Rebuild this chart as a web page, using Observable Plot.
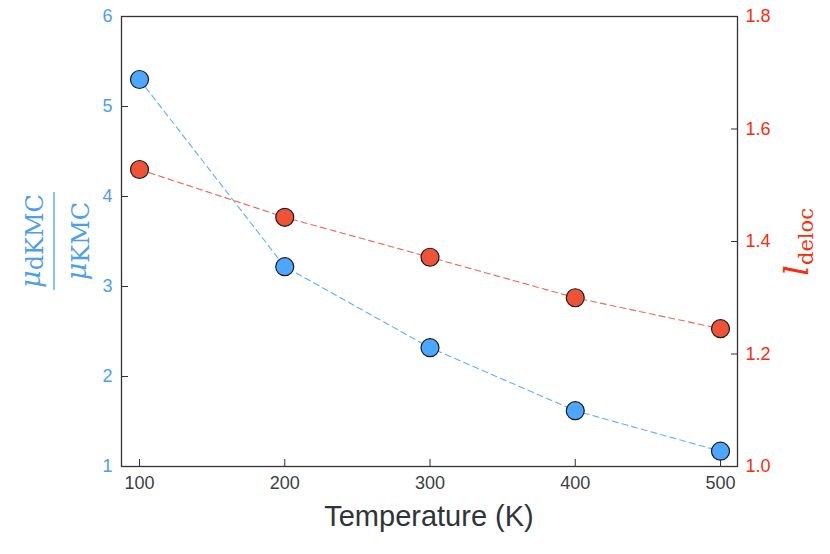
<!DOCTYPE html>
<html>
<head>
<meta charset="utf-8">
<script src="https://cdn.jsdelivr.net/npm/d3@7"></script>
<script src="https://cdn.jsdelivr.net/npm/@observablehq/plot@0.6"></script>
<style>
  html, body { margin: 0; padding: 0; background: #fff; }
  #chart { width: 830px; height: 554px; }
</style>
</head>
<body>
<div id="chart"></div>
<script>
// Data
const temperatures = [100, 200, 300, 400, 500];
const mobilityRatio = [5.30, 3.22, 2.32, 1.62, 1.17];    // μ_dKMC / μ_KMC (left axis)
const delocLength = [1.528, 1.443, 1.372, 1.300, 1.245]; // l_deloc (right axis)
const xTicks = [100, 200, 300, 400, 500];
const leftTicks = [1, 2, 3, 4, 5, 6];
const rightTicks = [1.0, 1.2, 1.4, 1.6, 1.8];

// Map right-axis values onto the left scale: [1.0,1.8] -> [1,6]
const rightToLeft = r => 1 + (r - 1.0) * (5 / 0.8);
const leftToRight = l => 1.0 + (l - 1) * (0.8 / 5);

const blueData = temperatures.map((t, i) => ({t, v: mobilityRatio[i]}));
const redData = temperatures.map((t, i) => ({t, v: rightToLeft(delocLength[i])}));

const BLUE = "#4DA6FF", BLUE_LINE = "#5DB2FA", BLUE_TEXT = "#4C9EF2";
const RED = "#EE5338", RED_LINE = "#EE6A55", RED_TEXT = "#FF2A0A";
const FONT = "Liberation Sans, Arial, sans-serif";

const plot = Plot.plot({
  width: 830,
  height: 554,
  marginLeft: 121,
  marginRight: 93,
  marginTop: 16,
  marginBottom: 88,
  style: {fontFamily: FONT, fontSize: "18px", background: "white"},
  x: {domain: [87.6, 511.7]},
  y: {domain: [1, 6]},
  marks: [
    Plot.axisX(xTicks, {anchor: "bottom", tickSize: -7, tickPadding: 17, stroke: "#333", fill: "#3a3f44", fontSize: 18, label: null,
      tickFormat: d => String(d)}),
    Plot.axisY(leftTicks, {anchor: "left", tickSize: -7, tickPadding: 16, stroke: "#333", fill: BLUE_TEXT, fontSize: 18, label: null,
      tickFormat: d => String(d)}),
    Plot.axisY(rightTicks.map(rightToLeft), {anchor: "right", tickSize: -7, tickPadding: 15, stroke: "#333", fill: RED_TEXT, fontSize: 18, label: null,
      tickFormat: d => leftToRight(d).toFixed(1)}),
    Plot.frame({stroke: "#333", strokeWidth: 1.3}),
    Plot.line(blueData, {x: "t", y: "v", stroke: BLUE_LINE, strokeWidth: 1.1, strokeDasharray: "6,4"}),
    Plot.line(redData, {x: "t", y: "v", stroke: RED_LINE, strokeWidth: 1.1, strokeDasharray: "6,4"}),
    Plot.dot(blueData, {x: "t", y: "v", r: 9, fill: BLUE, stroke: "#1a1a1a", strokeWidth: 1.2}),
    Plot.dot(redData, {x: "t", y: "v", r: 9, fill: RED, stroke: "#1a1a1a", strokeWidth: 1.2})
  ]
});

const svg = d3.select(plot);

// X axis title
svg.append("text")
  .attr("x", 429).attr("y", 526)
  .attr("text-anchor", "middle")
  .attr("font-family", FONT)
  .attr("font-size", 29)
  .attr("fill", "#2f3438")
  .text("Temperature (K)");

// Left axis title: fraction μ_dKMC / μ_KMC
const gL = svg.append("g").attr("transform", "translate(54,241) rotate(-90)")
  .attr("fill", BLUE_TEXT).attr("font-family", "DejaVu Serif, serif");
const num = gL.append("text").attr("x", 0).attr("y", -14).attr("text-anchor", "middle");
num.append("tspan").attr("font-style", "italic").attr("font-size", 27).text("μ");
num.append("tspan").attr("font-size", 24).attr("dy", 3).text("dKMC");
gL.append("line").attr("x1", -49).attr("x2", 49).attr("y1", 0).attr("y2", 0)
  .attr("stroke", BLUE_TEXT).attr("stroke-width", 1.3);
const den = gL.append("text").attr("x", 0).attr("y", 32).attr("text-anchor", "middle");
den.append("tspan").attr("font-style", "italic").attr("font-size", 27).text("μ");
den.append("tspan").attr("font-size", 24).attr("dy", 3).text("KMC");

// Right axis title: l_deloc
const gR = svg.append("g").attr("transform", "translate(808,242) rotate(-90)")
  .attr("fill", RED_TEXT).attr("font-family", "DejaVu Serif, serif");
const rt = gR.append("text").attr("x", 0).attr("y", 0).attr("text-anchor", "middle");
rt.append("tspan").attr("font-style", "italic").attr("font-size", 34).text("l");
rt.append("tspan").attr("font-size", 21).attr("dy", 5).text("deloc");

document.getElementById("chart").appendChild(plot);
</script>
</body>
</html>
